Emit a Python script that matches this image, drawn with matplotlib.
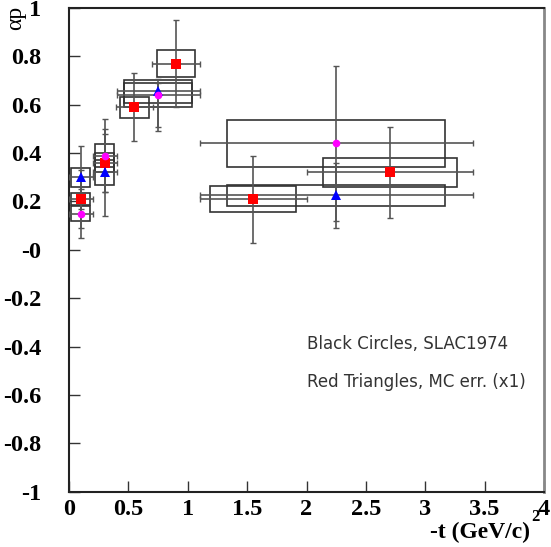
import matplotlib
matplotlib.use("Agg")
import matplotlib.pyplot as plt
from matplotlib.patches import Rectangle

# red squares
sq_t = [0.10, 0.30, 0.55, 0.90, 1.55, 2.70]
sq_a = [0.21, 0.36, 0.59, 0.77, 0.21, 0.32]
sq_dt = [0.10, 0.10, 0.155, 0.20, 0.45, 0.70]
sq_da_lo = [0.12, 0.12, 0.14, 0.18, 0.18, 0.19]
sq_da_hi = [0.12, 0.12, 0.14, 0.18, 0.18, 0.19]
sq_bt = [0.08, 0.08, 0.12, 0.16, 0.36, 0.565]
sq_ba = [0.024, 0.04, 0.044, 0.056, 0.054, 0.06]

# blue triangles
tri_t = [0.10, 0.30, 0.75, 2.25]
tri_a = [0.30, 0.32, 0.655, 0.225]
tri_dt = [0.10, 0.10, 0.35, 1.15]
tri_da_lo = [0.13, 0.18, 0.145, 0.135]
tri_da_hi = [0.13, 0.18, 0.05, 0.135]
tri_bt = [0.08, 0.08, 0.284, 0.92]
tri_ba = [0.04, 0.05, 0.046, 0.045]

# magenta circles
circ_t = [0.10, 0.30, 0.75, 2.25]
circ_a = [0.15, 0.39, 0.64, 0.44]
circ_dt = [0.10, 0.10, 0.35, 1.15]
circ_da_lo = [0.10, 0.15, 0.15, 0.32]
circ_da_hi = [0.10, 0.15, 0.05, 0.32]
circ_bt = [0.08, 0.08, 0.284, 0.92]
circ_ba = [0.03, 0.047, 0.048, 0.098]

xticks = [0, 0.5, 1, 1.5, 2, 2.5, 3, 3.5, 4]
xticklabels = ["0", "0.5", "1", "1.5", "2", "2.5", "3", "3.5", "4"]
yticks = [-1, -0.8, -0.6, -0.4, -0.2, 0, 0.2, 0.4, 0.6, 0.8, 1]
yticklabels = ["-1", "-0.8", "-0.6", "-0.4", "-0.2", "-0", "0.2", "0.4", "0.6", "0.8", "1"]

fig = plt.figure(figsize=(5.51, 5.47), dpi=100)
ax = fig.add_axes([69 / 551, 1 - 491.7 / 547, 475 / 551, 483.7 / 547])

series = [
    (sq_t, sq_a, sq_dt, sq_da_lo, sq_da_hi, sq_bt, sq_ba, "s", "red", 7),
    (tri_t, tri_a, tri_dt, tri_da_lo, tri_da_hi, tri_bt, tri_ba, "^", "blue", 7.5),
    (circ_t, circ_a, circ_dt, circ_da_lo, circ_da_hi, circ_bt, circ_ba, "o", "magenta", 5.5),
]

# systematic boxes first
for t, a, dt, lo, hi, bt, ba, m, c, ms in series:
    for ti, ai, bti, bai in zip(t, a, bt, ba):
        ax.add_patch(Rectangle((ti - bti, ai - bai), 2 * bti, 2 * bai,
                               fill=False, edgecolor="#333333", lw=1.2, zorder=2))

# error bars, then markers on top
for t, a, dt, lo, hi, bt, ba, m, c, ms in series:
    ax.errorbar(t, a, xerr=dt, yerr=[lo, hi], fmt="none", ecolor="#555555",
                elinewidth=1.2, capsize=2, capthick=1, zorder=3)
for t, a, dt, lo, hi, bt, ba, m, c, ms in series:
    ax.plot(t, a, m, color=c, markersize=ms, markeredgewidth=0, zorder=4)

ax.set_xlim(0, 4)
ax.set_ylim(-1, 1)
ax.set_xticks(xticks)
ax.set_xticklabels(xticklabels)
ax.set_yticks(yticks)
ax.set_yticklabels(yticklabels)
ax.tick_params(direction="in", length=8, width=1, color="#333333", pad=5)
ax.tick_params(axis="y", pad=20)
for lab in ax.get_xticklabels() + ax.get_yticklabels():
    lab.set_fontfamily("Liberation Serif")
    lab.set_fontweight("bold")
    lab.set_fontsize(17.5)

for side in ["left", "bottom", "top"]:
    ax.spines[side].set_color("#222222")
    ax.spines[side].set_linewidth(1.5)
ax.spines["right"].set_color("#888888")
ax.spines["right"].set_linewidth(2)

fig.text(16 / 551, 1 - 6 / 547, "\u03b1p", rotation=90, ha="center", va="top",
         fontfamily="Liberation Serif", fontsize=17)
fig.text(530 / 551, 1 - 538 / 547, "-t (GeV/c)", ha="right", va="baseline",
         fontfamily="Liberation Serif", fontweight="bold", fontsize=17)
fig.text(531 / 551, 1 - 521 / 547, "2", ha="left", va="baseline",
         fontfamily="Liberation Serif", fontweight="bold", fontsize=12)

fig.text(307 / 551, 1 - 344 / 547, "Black Circles, SLAC1974", ha="left", va="center",
         fontfamily="DejaVu Sans", fontsize=12, color="#333333")
fig.text(307 / 551, 1 - 382 / 547, "Red Triangles, MC err. (x1)", ha="left", va="center",
         fontfamily="DejaVu Sans", fontsize=12, color="#333333")

fig.savefig("out.png", dpi=100)
